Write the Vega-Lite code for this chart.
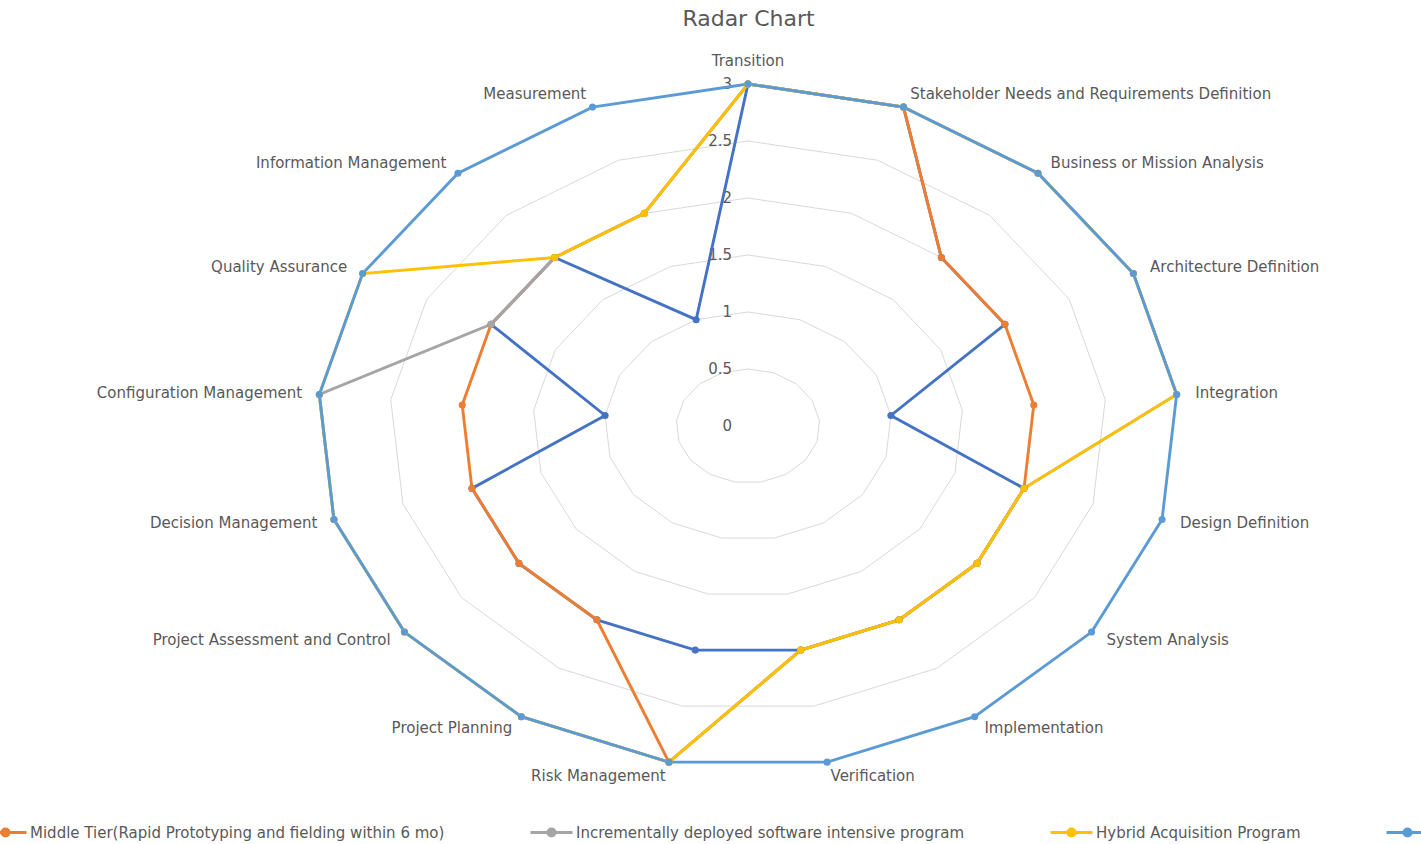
{
  "$schema": "https://vega.github.io/schema/vega-lite/v6.json",
  "width": 1421,
  "height": 804,
  "autosize": {"type": "none"},
  "padding": {"left": 0, "right": 0, "top": 40, "bottom": 0},
  "background": "white",
  "title": {"text": "Radar Chart", "anchor": "middle", "dx": 38, "offset": 9, "fontSize": 22, "font": "DejaVu Sans", "fontWeight": "normal", "color": "#595959"},
  "config": {"view": {"stroke": null}},
  "datasets": {
    "scores": [
      {"series": "Urgent Capability Acquisition", "i": 0, "category": "Transition", "value": 3},
      {"series": "Urgent Capability Acquisition", "i": 1, "category": "Stakeholder Needs and Requirements Definition", "value": 3},
      {"series": "Urgent Capability Acquisition", "i": 2, "category": "Business or Mission Analysis", "value": 2},
      {"series": "Urgent Capability Acquisition", "i": 3, "category": "Architecture Definition", "value": 2},
      {"series": "Urgent Capability Acquisition", "i": 4, "category": "Integration", "value": 1},
      {"series": "Urgent Capability Acquisition", "i": 5, "category": "Design Definition", "value": 2},
      {"series": "Urgent Capability Acquisition", "i": 6, "category": "System Analysis", "value": 2},
      {"series": "Urgent Capability Acquisition", "i": 7, "category": "Implementation", "value": 2},
      {"series": "Urgent Capability Acquisition", "i": 8, "category": "Verification", "value": 2},
      {"series": "Urgent Capability Acquisition", "i": 9, "category": "Risk Management", "value": 2},
      {"series": "Urgent Capability Acquisition", "i": 10, "category": "Project Planning", "value": 2},
      {"series": "Urgent Capability Acquisition", "i": 11, "category": "Project Assessment and Control", "value": 2},
      {"series": "Urgent Capability Acquisition", "i": 12, "category": "Decision Management", "value": 2},
      {"series": "Urgent Capability Acquisition", "i": 13, "category": "Configuration Management", "value": 1},
      {"series": "Urgent Capability Acquisition", "i": 14, "category": "Quality Assurance", "value": 2},
      {"series": "Urgent Capability Acquisition", "i": 15, "category": "Information Management", "value": 2},
      {"series": "Urgent Capability Acquisition", "i": 16, "category": "Measurement", "value": 1},
      {"series": "Middle Tier(Rapid Prototyping and fielding within 6 mo)", "i": 0, "category": "Transition", "value": 3},
      {"series": "Middle Tier(Rapid Prototyping and fielding within 6 mo)", "i": 1, "category": "Stakeholder Needs and Requirements Definition", "value": 3},
      {"series": "Middle Tier(Rapid Prototyping and fielding within 6 mo)", "i": 2, "category": "Business or Mission Analysis", "value": 2},
      {"series": "Middle Tier(Rapid Prototyping and fielding within 6 mo)", "i": 3, "category": "Architecture Definition", "value": 2},
      {"series": "Middle Tier(Rapid Prototyping and fielding within 6 mo)", "i": 4, "category": "Integration", "value": 2},
      {"series": "Middle Tier(Rapid Prototyping and fielding within 6 mo)", "i": 5, "category": "Design Definition", "value": 2},
      {"series": "Middle Tier(Rapid Prototyping and fielding within 6 mo)", "i": 6, "category": "System Analysis", "value": 2},
      {"series": "Middle Tier(Rapid Prototyping and fielding within 6 mo)", "i": 7, "category": "Implementation", "value": 2},
      {"series": "Middle Tier(Rapid Prototyping and fielding within 6 mo)", "i": 8, "category": "Verification", "value": 2},
      {"series": "Middle Tier(Rapid Prototyping and fielding within 6 mo)", "i": 9, "category": "Risk Management", "value": 3},
      {"series": "Middle Tier(Rapid Prototyping and fielding within 6 mo)", "i": 10, "category": "Project Planning", "value": 2},
      {"series": "Middle Tier(Rapid Prototyping and fielding within 6 mo)", "i": 11, "category": "Project Assessment and Control", "value": 2},
      {"series": "Middle Tier(Rapid Prototyping and fielding within 6 mo)", "i": 12, "category": "Decision Management", "value": 2},
      {"series": "Middle Tier(Rapid Prototyping and fielding within 6 mo)", "i": 13, "category": "Configuration Management", "value": 2},
      {"series": "Middle Tier(Rapid Prototyping and fielding within 6 mo)", "i": 14, "category": "Quality Assurance", "value": 2},
      {"series": "Middle Tier(Rapid Prototyping and fielding within 6 mo)", "i": 15, "category": "Information Management", "value": 2},
      {"series": "Middle Tier(Rapid Prototyping and fielding within 6 mo)", "i": 16, "category": "Measurement", "value": 2},
      {"series": "Incrementally deployed software intensive program", "i": 0, "category": "Transition", "value": 3},
      {"series": "Incrementally deployed software intensive program", "i": 1, "category": "Stakeholder Needs and Requirements Definition", "value": 3},
      {"series": "Incrementally deployed software intensive program", "i": 2, "category": "Business or Mission Analysis", "value": 3},
      {"series": "Incrementally deployed software intensive program", "i": 3, "category": "Architecture Definition", "value": 3},
      {"series": "Incrementally deployed software intensive program", "i": 4, "category": "Integration", "value": 3},
      {"series": "Incrementally deployed software intensive program", "i": 5, "category": "Design Definition", "value": 2},
      {"series": "Incrementally deployed software intensive program", "i": 6, "category": "System Analysis", "value": 2},
      {"series": "Incrementally deployed software intensive program", "i": 7, "category": "Implementation", "value": 2},
      {"series": "Incrementally deployed software intensive program", "i": 8, "category": "Verification", "value": 2},
      {"series": "Incrementally deployed software intensive program", "i": 9, "category": "Risk Management", "value": 3},
      {"series": "Incrementally deployed software intensive program", "i": 10, "category": "Project Planning", "value": 3},
      {"series": "Incrementally deployed software intensive program", "i": 11, "category": "Project Assessment and Control", "value": 3},
      {"series": "Incrementally deployed software intensive program", "i": 12, "category": "Decision Management", "value": 3},
      {"series": "Incrementally deployed software intensive program", "i": 13, "category": "Configuration Management", "value": 3},
      {"series": "Incrementally deployed software intensive program", "i": 14, "category": "Quality Assurance", "value": 2},
      {"series": "Incrementally deployed software intensive program", "i": 15, "category": "Information Management", "value": 2},
      {"series": "Incrementally deployed software intensive program", "i": 16, "category": "Measurement", "value": 2},
      {"series": "Hybrid Acquisition Program", "i": 0, "category": "Transition", "value": 3},
      {"series": "Hybrid Acquisition Program", "i": 1, "category": "Stakeholder Needs and Requirements Definition", "value": 3},
      {"series": "Hybrid Acquisition Program", "i": 2, "category": "Business or Mission Analysis", "value": 3},
      {"series": "Hybrid Acquisition Program", "i": 3, "category": "Architecture Definition", "value": 3},
      {"series": "Hybrid Acquisition Program", "i": 4, "category": "Integration", "value": 3},
      {"series": "Hybrid Acquisition Program", "i": 5, "category": "Design Definition", "value": 2},
      {"series": "Hybrid Acquisition Program", "i": 6, "category": "System Analysis", "value": 2},
      {"series": "Hybrid Acquisition Program", "i": 7, "category": "Implementation", "value": 2},
      {"series": "Hybrid Acquisition Program", "i": 8, "category": "Verification", "value": 2},
      {"series": "Hybrid Acquisition Program", "i": 9, "category": "Risk Management", "value": 3},
      {"series": "Hybrid Acquisition Program", "i": 10, "category": "Project Planning", "value": 3},
      {"series": "Hybrid Acquisition Program", "i": 11, "category": "Project Assessment and Control", "value": 3},
      {"series": "Hybrid Acquisition Program", "i": 12, "category": "Decision Management", "value": 3},
      {"series": "Hybrid Acquisition Program", "i": 13, "category": "Configuration Management", "value": 3},
      {"series": "Hybrid Acquisition Program", "i": 14, "category": "Quality Assurance", "value": 3},
      {"series": "Hybrid Acquisition Program", "i": 15, "category": "Information Management", "value": 2},
      {"series": "Hybrid Acquisition Program", "i": 16, "category": "Measurement", "value": 2},
      {"series": "Major Capability Acquisition", "i": 0, "category": "Transition", "value": 3},
      {"series": "Major Capability Acquisition", "i": 1, "category": "Stakeholder Needs and Requirements Definition", "value": 3},
      {"series": "Major Capability Acquisition", "i": 2, "category": "Business or Mission Analysis", "value": 3},
      {"series": "Major Capability Acquisition", "i": 3, "category": "Architecture Definition", "value": 3},
      {"series": "Major Capability Acquisition", "i": 4, "category": "Integration", "value": 3},
      {"series": "Major Capability Acquisition", "i": 5, "category": "Design Definition", "value": 3},
      {"series": "Major Capability Acquisition", "i": 6, "category": "System Analysis", "value": 3},
      {"series": "Major Capability Acquisition", "i": 7, "category": "Implementation", "value": 3},
      {"series": "Major Capability Acquisition", "i": 8, "category": "Verification", "value": 3},
      {"series": "Major Capability Acquisition", "i": 9, "category": "Risk Management", "value": 3},
      {"series": "Major Capability Acquisition", "i": 10, "category": "Project Planning", "value": 3},
      {"series": "Major Capability Acquisition", "i": 11, "category": "Project Assessment and Control", "value": 3},
      {"series": "Major Capability Acquisition", "i": 12, "category": "Decision Management", "value": 3},
      {"series": "Major Capability Acquisition", "i": 13, "category": "Configuration Management", "value": 3},
      {"series": "Major Capability Acquisition", "i": 14, "category": "Quality Assurance", "value": 3},
      {"series": "Major Capability Acquisition", "i": 15, "category": "Information Management", "value": 3},
      {"series": "Major Capability Acquisition", "i": 16, "category": "Measurement", "value": 3}
    ],
    "grid": [
      {"level": 0.5, "i": [0,1,2,3,4,5,6,7,8,9,10,11,12,13,14,15,16]},
      {"level": 1, "i": [0,1,2,3,4,5,6,7,8,9,10,11,12,13,14,15,16]},
      {"level": 1.5, "i": [0,1,2,3,4,5,6,7,8,9,10,11,12,13,14,15,16]},
      {"level": 2, "i": [0,1,2,3,4,5,6,7,8,9,10,11,12,13,14,15,16]},
      {"level": 2.5, "i": [0,1,2,3,4,5,6,7,8,9,10,11,12,13,14,15,16]},
      {"level": 3, "i": [0,1,2,3,4,5,6,7,8,9,10,11,12,13,14,15,16]}
    ],
    "ticks": [
      {"level": 0, "label": "0"},
      {"level": 0.5, "label": "0.5"},
      {"level": 1, "label": "1"},
      {"level": 1.5, "label": "1.5"},
      {"level": 2, "label": "2"},
      {"level": 2.5, "label": "2.5"},
      {"level": 3, "label": "3"}
    ],
    "cats": [
      {"i": 0, "category": "Transition"},
      {"i": 1, "category": "Stakeholder Needs and Requirements Definition"},
      {"i": 2, "category": "Business or Mission Analysis"},
      {"i": 3, "category": "Architecture Definition"},
      {"i": 4, "category": "Integration"},
      {"i": 5, "category": "Design Definition"},
      {"i": 6, "category": "System Analysis"},
      {"i": 7, "category": "Implementation"},
      {"i": 8, "category": "Verification"},
      {"i": 9, "category": "Risk Management"},
      {"i": 10, "category": "Project Planning"},
      {"i": 11, "category": "Project Assessment and Control"},
      {"i": 12, "category": "Decision Management"},
      {"i": 13, "category": "Configuration Management"},
      {"i": 14, "category": "Quality Assurance"},
      {"i": 15, "category": "Information Management"},
      {"i": 16, "category": "Measurement"}
    ]
  },
  "layer": [
    {
      "data": {"name": "grid"},
      "transform": [
        {"flatten": ["i"]},
        {"calculate": "2*PI*datum.i/17", "as": "a"},
        {"calculate": "datum.level*sin(datum.a)", "as": "x"},
        {"calculate": "datum.level*cos(datum.a)", "as": "y"}
      ],
      "mark": {"type": "line", "interpolate": "linear-closed", "color": "#D9D9D9", "strokeWidth": 1},
      "encoding": {
        "x": {"field": "x", "type": "quantitative", "scale": {"domain": [-5.2125, 4.6899], "nice": false, "zero": false}, "axis": null},
        "y": {"field": "y", "type": "quantitative", "scale": {"domain": [-3.667, 3.386], "nice": false, "zero": false}, "axis": null},
        "detail": {"field": "level", "type": "nominal"},
        "order": {"field": "i", "type": "quantitative"}
      }
    },
    {
      "data": {"name": "ticks"},
      "mark": {"type": "text", "align": "right", "baseline": "middle", "dx": -16, "font": "DejaVu Sans", "fontSize": 15, "color": "#595959"},
      "encoding": {
        "x": {"datum": 0, "type": "quantitative"},
        "y": {"field": "level", "type": "quantitative"},
        "text": {"field": "label", "type": "nominal"}
      }
    },
    {
      "data": {"name": "scores"},
      "transform": [
        {"calculate": "2*PI*datum.i/17", "as": "a"},
        {"calculate": "datum.value*sin(datum.a)", "as": "x"},
        {"calculate": "datum.value*cos(datum.a)", "as": "y"}
      ],
      "mark": {"type": "line", "interpolate": "linear-closed", "strokeWidth": 2.9},
      "encoding": {
        "x": {"field": "x", "type": "quantitative"},
        "y": {"field": "y", "type": "quantitative"},
        "order": {"field": "i", "type": "quantitative"},
        "color": {
          "field": "series", "type": "nominal",
          "scale": {
            "domain": ["Urgent Capability Acquisition", "Middle Tier(Rapid Prototyping and fielding within 6 mo)", "Incrementally deployed software intensive program", "Hybrid Acquisition Program", "Major Capability Acquisition"],
            "range": ["#4472C4", "#ED7D31", "#A5A5A5", "#FFC000", "#5B9BD5"]
          },
          "legend": {
            "orient": "none", "direction": "horizontal", "legendX": -366, "legendY": 770,
            "title": null,
            "symbolType": "M-1,0L1,0M0.17,0A0.17,0.17,0,1,1,-0.17,0A0.17,0.17,0,1,1,0.17,0Z",
            "symbolSize": 1764, "symbolStrokeWidth": 2.9, "symbolOpacity": 1,
            "labelFont": "DejaVu Sans", "labelFontSize": 15, "labelColor": "#595959", "labelLimit": 1000,
            "labelOffset": 2, "columnPadding": 79,
            "encode": {"symbols": {"update": {"fill": {"scale": "color", "field": "value"}, "stroke": {"scale": "color", "field": "value"}}}}
          }
        }
      }
    },
    {
      "data": {"name": "scores"},
      "transform": [
        {"calculate": "2*PI*datum.i/17", "as": "a"},
        {"calculate": "datum.value*sin(datum.a)", "as": "x"},
        {"calculate": "datum.value*cos(datum.a)", "as": "y"}
      ],
      "mark": {"type": "point", "filled": true, "size": 50, "opacity": 1},
      "encoding": {
        "x": {"field": "x", "type": "quantitative"},
        "y": {"field": "y", "type": "quantitative"},
        "color": {"field": "series", "type": "nominal", "legend": null}
      }
    },
    {
      "data": {"name": "cats"},
      "transform": [
        {"calculate": "2*PI*datum.i/17", "as": "a"},
        {"calculate": "3.13*sin(datum.a)", "as": "lx"},
        {"calculate": "3.12*cos(datum.a)", "as": "ly"},
        {"filter": "sin(datum.a) > 0.01"}
      ],
      "mark": {"type": "text", "align": "left", "baseline": "middle", "font": "DejaVu Sans", "fontSize": 15, "color": "#595959"},
      "encoding": {
        "x": {"field": "lx", "type": "quantitative"},
        "y": {"field": "ly", "type": "quantitative"},
        "text": {"field": "category", "type": "nominal"}
      }
    },
    {
      "data": {"name": "cats"},
      "transform": [
        {"calculate": "2*PI*datum.i/17", "as": "a"},
        {"calculate": "3.12*sin(datum.a)", "as": "lx"},
        {"calculate": "3.12*cos(datum.a)", "as": "ly"},
        {"filter": "sin(datum.a) < -0.01"}
      ],
      "mark": {"type": "text", "align": "right", "baseline": "middle", "font": "DejaVu Sans", "fontSize": 15, "color": "#595959"},
      "encoding": {
        "x": {"field": "lx", "type": "quantitative"},
        "y": {"field": "ly", "type": "quantitative"},
        "text": {"field": "category", "type": "nominal"}
      }
    },
    {
      "data": {"name": "cats"},
      "transform": [
        {"calculate": "2*PI*datum.i/17", "as": "a"},
        {"calculate": "3.12*sin(datum.a)", "as": "lx"},
        {"calculate": "3.12*cos(datum.a)", "as": "ly"},
        {"filter": "abs(sin(datum.a)) <= 0.01"}
      ],
      "mark": {"type": "text", "align": "center", "baseline": "middle", "dy": -9, "font": "DejaVu Sans", "fontSize": 15, "color": "#595959"},
      "encoding": {
        "x": {"field": "lx", "type": "quantitative"},
        "y": {"field": "ly", "type": "quantitative"},
        "text": {"field": "category", "type": "nominal"}
      }
    }
  ]
}
